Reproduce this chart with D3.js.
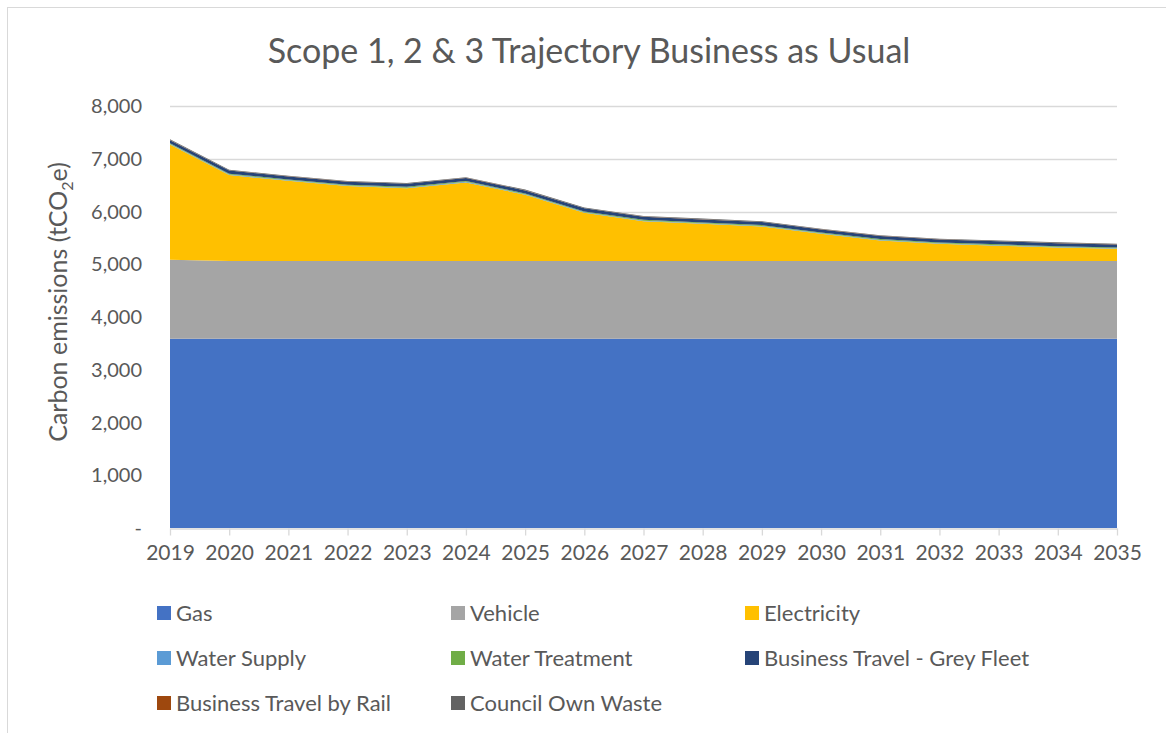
<!DOCTYPE html>
<html>
<head>
<meta charset="utf-8">
<script src="https://cdn.jsdelivr.net/npm/d3@7"></script>
<style>
  body { margin: 0; background: #fff; }
  svg text { font-family: Lato, "Open Sans", sans-serif; fill: #595959; }
</style>
</head>
<body>
<svg id="chart" width="1166" height="733"></svg>
<script>
// years along the x axis
var years = [2019, 2020, 2021, 2022, 2023, 2024, 2025, 2026, 2027, 2028, 2029, 2030, 2031, 2032, 2033, 2034, 2035];

// series values (tCO2e)
var gas            = [3590, 3590, 3590, 3590, 3590, 3590, 3590, 3590, 3590, 3590, 3590, 3590, 3590, 3590, 3590, 3590, 3590];
var vehicle        = [1495, 1470, 1470, 1470, 1470, 1470, 1470, 1470, 1470, 1470, 1470, 1470, 1470, 1470, 1470, 1470, 1470];
var electricity    = [2185, 1632, 1522, 1422, 1382, 1492, 1257, 917, 757, 707, 657, 517, 392, 327, 292, 257, 232];
var waterSupply    = [10, 10, 10, 10, 10, 10, 10, 10, 10, 10, 10, 10, 10, 10, 10, 10, 10];
var waterTreatment = [15, 15, 15, 15, 15, 15, 15, 15, 15, 15, 15, 15, 15, 15, 15, 15, 15];
var greyFleet      = [58, 58, 58, 58, 58, 58, 58, 58, 58, 58, 58, 58, 58, 58, 58, 58, 58];
var rail           = [3, 3, 3, 3, 3, 3, 3, 3, 3, 3, 3, 3, 3, 3, 3, 3, 3];
var councilWaste   = [12, 12, 12, 12, 12, 12, 12, 12, 12, 12, 12, 12, 12, 12, 12, 12, 12];

var yTicks = [0, 1000, 2000, 3000, 4000, 5000, 6000, 7000, 8000];

var series = [
    { key: 'gas',            name: 'Gas',                          color: '#4472C4', values: gas },
    { key: 'vehicle',        name: 'Vehicle',                      color: '#A5A5A5', values: vehicle },
    { key: 'electricity',    name: 'Electricity',                  color: '#FFC000', values: electricity },
    { key: 'waterSupply',    name: 'Water Supply',                 color: '#5B9BD5', values: waterSupply },
    { key: 'waterTreatment', name: 'Water Treatment',              color: '#70AD47', values: waterTreatment },
    { key: 'greyFleet',      name: 'Business Travel - Grey Fleet', color: '#264478', values: greyFleet },
    { key: 'rail',           name: 'Business Travel by Rail',      color: '#9E480E', values: rail },
    { key: 'councilWaste',   name: 'Council Own Waste',            color: '#636363', values: councilWaste }
];

// build rows for d3.stack
var rows = years.map(function (yr, i) {
    var r = { year: yr };
    series.forEach(function (s) { r[s.key] = s.values[i]; });
    return r;
});

var svg = d3.select('#chart');

// outer chart border (runs off the right and bottom like the screenshot)
svg.append('rect')
    .attr('x', 7.5).attr('y', 7.5)
    .attr('width', 1200).attr('height', 760)
    .attr('fill', 'none')
    .attr('stroke', '#d9d9d9');

var margin = { top: 106, left: 170, right: 1117, bottom: 528 };

var x = d3.scaleLinear()
    .domain([years[0], years[years.length - 1]])
    .range([margin.left, margin.right]);
var y = d3.scaleLinear()
    .domain([0, 8000])
    .range([margin.bottom, margin.top]);

// gridlines
svg.append('g')
    .selectAll('line')
    .data(yTicks.slice(1))
    .enter().append('line')
    .attr('x1', margin.left).attr('x2', margin.right)
    .attr('y1', function (d) { return Math.round(y(d)) + 0.5; })
    .attr('y2', function (d) { return Math.round(y(d)) + 0.5; })
    .attr('stroke', '#d9d9d9')
    .attr('stroke-width', 1.3);

// stacked areas
var stack = d3.stack().keys(series.map(function (s) { return s.key; }));
var layers = stack(rows);

var area = d3.area()
    .x(function (d) { return x(d.data.year); })
    .y0(function (d) { return y(d[0]); })
    .y1(function (d) { return y(d[1]); });

svg.append('g')
    .selectAll('path')
    .data(layers)
    .enter().append('path')
    .attr('d', area)
    .attr('fill', function (d, i) { return series[i].color; });

// x axis
var xAxis = svg.append('g')
    .attr('transform', 'translate(0,' + (margin.bottom + 0.5) + ')')
    .call(d3.axisBottom(x)
        .tickValues(years)
        .tickFormat(d3.format('d'))
        .tickSizeInner(7)
        .tickSizeOuter(0)
        .tickPadding(10));
xAxis.select('.domain').attr('stroke', '#d9d9d9').attr('stroke-width', 1.3);
xAxis.selectAll('.tick line').attr('stroke', '#d9d9d9').attr('stroke-width', 1.3);
xAxis.selectAll('.tick text')
    .style('font-size', '21px')
    .attr('fill', '#595959');

// y axis labels (no line)
var fmt = d3.format(',');
svg.append('g')
    .selectAll('text')
    .data(yTicks)
    .enter().append('text')
    .attr('x', 142)
    .attr('y', function (d) { return y(d); })
    .attr('dy', '0.35em')
    .attr('text-anchor', 'end')
    .style('font-size', '20px')
    .text(function (d) { return d === 0 ? '-' : fmt(d); });

// y axis title
var yTitle = svg.append('text')
    .attr('transform', 'translate(67,302) rotate(-90)')
    .attr('text-anchor', 'middle')
    .style('font-size', '25px');
yTitle.append('tspan').text('Carbon emissions (tCO');
yTitle.append('tspan').attr('dy', 6).style('font-size', '16px').text('2');
yTitle.append('tspan').attr('dy', -6).text('e)');

// chart title
svg.append('text')
    .attr('x', 589)
    .attr('y', 63)
    .attr('text-anchor', 'middle')
    .style('font-size', '34px')
    .text('Scope 1, 2 & 3 Trajectory Business as Usual');

// legend, three columns
var legendCols = [157, 451, 745];
var legendRows = [613, 658, 703];
var legend = svg.append('g')
    .selectAll('g')
    .data(series)
    .enter().append('g')
    .attr('transform', function (d, i) {
        return 'translate(' + legendCols[i % 3] + ',' + legendRows[Math.floor(i / 3)] + ')';
    });
legend.append('rect')
    .attr('x', 0).attr('y', -7)
    .attr('width', 14).attr('height', 14)
    .attr('fill', function (d) { return d.color; });
legend.append('text')
    .attr('x', 19)
    .attr('dy', '0.35em')
    .style('font-size', '22px')
    .text(function (d) { return d.name; });
</script>
</body>
</html>
